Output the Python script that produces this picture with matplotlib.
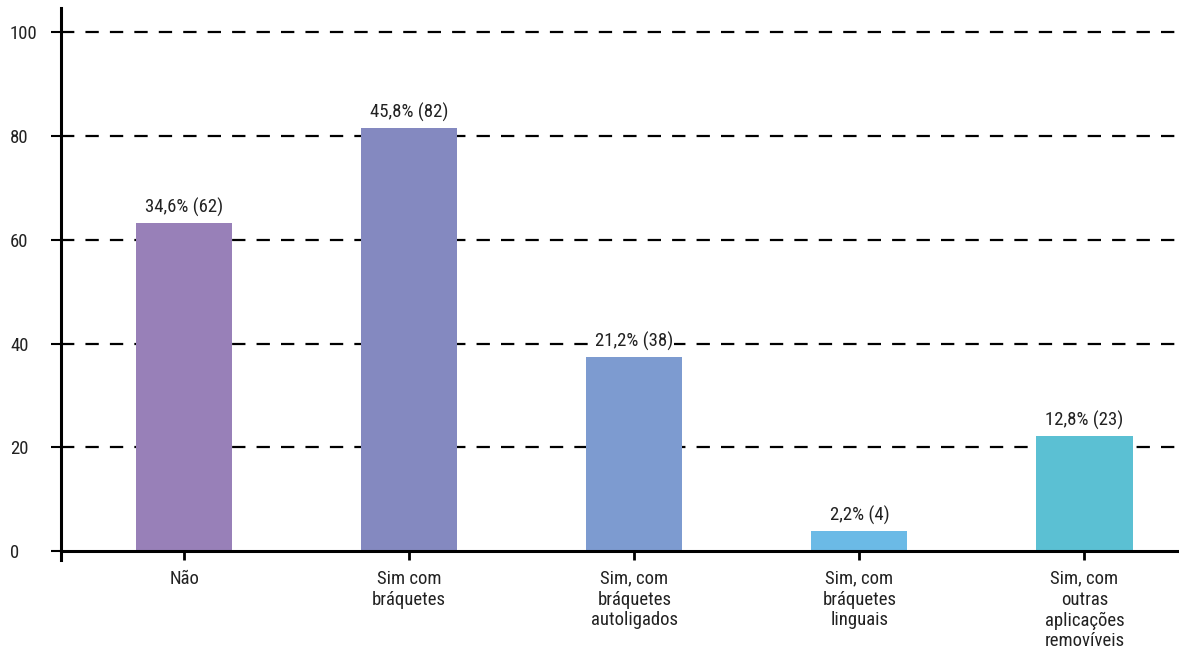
import matplotlib
matplotlib.use("Agg")
import matplotlib.pyplot as plt
from matplotlib import font_manager

categories = ["Não", "Sim com\nbráquetes", "Sim, com\nbráquetes\nautoligados",
              "Sim, com\nbráquetes\nlinguais", "Sim, com\noutras\naplicações\nremovíveis"]
heights = [63.3, 81.6, 37.5, 3.9, 22.2]
bar_labels = ["34,6% (62)", "45,8% (82)", "21,2% (38)", "2,2% (4)", "12,8% (23)"]
yticks = [0, 20, 40, 60, 80, 100]
colors = ["#9880B8", "#8489C0", "#7D9BD0", "#6BBAE6", "#5BC0D3"]

names = {f.name for f in font_manager.fontManager.ttflist}
fam = [n for n in ["Liberation Sans Narrow", "Roboto Condensed", "Open Sans Condensed",
                   "DejaVu Sans"] if n in names]
plt.rcParams['font.family'] = fam + ['DejaVu Sans']
plt.rcParams['font.stretch'] = 'condensed'
txt = "#222222"
fs = 13.5

fig = plt.figure(figsize=(11.79, 6.57), dpi=100)
ax = fig.add_axes([61/1179, 0.147, 1 - 61/1179, 0.988 - 0.147])

x = list(range(len(categories)))
ax.bar(x, heights, width=0.427, color=colors, zorder=3)
for xi, h, lab in zip(x, heights, bar_labels):
    ax.annotate(lab, (xi, h), xytext=(0, 4), textcoords="offset points",
                ha="center", va="bottom", fontsize=fs, color=txt, zorder=5,
                bbox=dict(facecolor="white", edgecolor="none", pad=0.5))

ax.set_xlim(-0.547, 4.42)
ax.set_ylim(-1.8, 104.7)

ax.set_yticks(yticks)
ax.set_yticklabels([str(v) for v in yticks])
for t in ax.get_yticklabels():
    t.set_horizontalalignment("left")
ax.tick_params(axis="y", direction="out", length=7.2, width=1.5, pad=29.5,
               labelsize=fs, labelcolor=txt)
ax.set_xticks(x)
ax.set_xticklabels(categories, linespacing=1.05)
ax.tick_params(axis="x", direction="out", length=6.5, width=2, pad=7,
               labelsize=fs, labelcolor=txt)

for v in yticks[1:]:
    ax.axhline(v, color="black", lw=1.6, ls=(0, (6, 5)), zorder=1, clip_on=False)

for s in ["top", "right"]:
    ax.spines[s].set_visible(False)
ax.spines["bottom"].set_position(("data", 0))
ax.spines["bottom"].set_linewidth(2.2)
ax.spines["left"].set_linewidth(2.2)
ax.spines["bottom"].set_zorder(4)

fig.savefig("out.png", dpi=100)
